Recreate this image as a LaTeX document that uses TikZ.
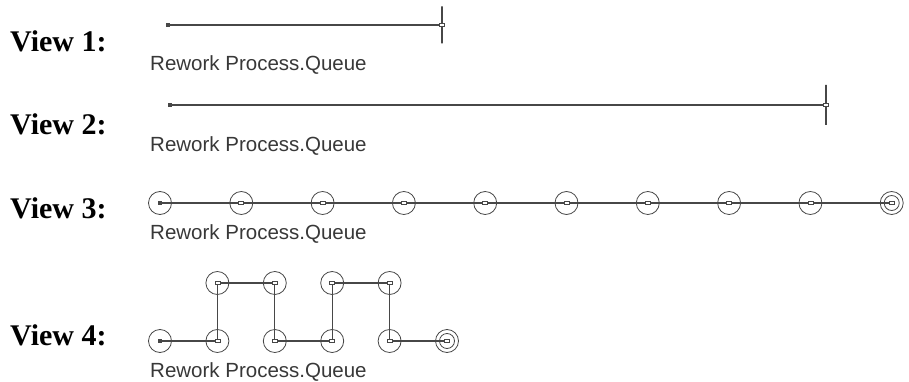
\documentclass[tikz,border=0pt]{standalone}
\usepackage{fontspec}
\setmainfont{Liberation Serif}
\setsansfont{Liberation Sans}
\usetikzlibrary{positioning,backgrounds}
\definecolor{wiregray}{gray}{0.28}
\definecolor{labelgray}{gray}{0.22}

\begin{document}
\begin{tikzpicture}[
    x=1pt, y=-1pt,
    view/.style={anchor=base west, inner sep=0pt, font=\fontsize{30}{36}\selectfont\bfseries},
    qlabel/.style={anchor=base west, inner sep=0pt, text=labelgray, font=\sffamily\fontsize{20.5}{24}\selectfont},
    wire/.style={draw=wiregray, line width=1.2pt},
    fillbox/.style={rectangle, fill=wiregray, minimum width=4pt, minimum height=4pt, inner sep=0pt},
    openbox/.style={rectangle, draw=wiregray, fill=white, line width=0.8pt, minimum width=5pt, minimum height=3.5pt, inner sep=0pt},
    startpt/.style={inner sep=0pt, minimum size=0pt, label={[fillbox]center:{}}},
    endbar/.style={rectangle, draw=wiregray, line width=1.2pt, minimum width=0pt, inner sep=0pt, label={[openbox]center:{}}},
    stn/.style={circle, draw=wiregray, line width=0.8pt, minimum size=23pt, inner sep=0pt, label={[openbox]center:{}}},
    firststn/.style={circle, draw=wiregray, line width=0.8pt, minimum size=23pt, inner sep=0pt, label={[fillbox]center:{}}},
    laststn/.style={stn, path picture={\draw[wiregray, line width=0.8pt] (path picture bounding box.center) circle (7.5pt);}}
]
\useasboundingbox (0,0) rectangle (909,382);

% --- View 1 ---
\node[view] (V1) at (10,52) {View 1:};
\node[startpt] (S1) at (168,25) {};
\node[endbar, minimum height=37pt] (E1) at (442,25) {};
\node[qlabel] (L1) at (150,71) {Rework Process.Queue};

% --- View 2 ---
\node[view] (V2) at (10,135) {View 2:};
\node[startpt] (S2) at (170,105) {};
\node[endbar, minimum height=40pt] (E2) at (826,105) {};
\node[qlabel] (L2) at (150,152) {Rework Process.Queue};

% --- View 3 ---
\node[view] (V3) at (10,218) {View 3:};
\node[firststn] (A1) at (160,203) {};
\node[stn, right=57.5pt of A1] (A2) {};
\node[stn, right=57.5pt of A2] (A3) {};
\node[stn, right=57.5pt of A3] (A4) {};
\node[stn, right=57.5pt of A4] (A5) {};
\node[stn, right=57.5pt of A5] (A6) {};
\node[stn, right=57.5pt of A6] (A7) {};
\node[stn, right=57.5pt of A7] (A8) {};
\node[stn, right=57.5pt of A8] (A9) {};
\node[laststn, right=57.5pt of A9] (A10) {};
\node[qlabel] (L3) at (150,239) {Rework Process.Queue};

% --- View 4 ---
\node[view] (V4) at (10,345) {View 4:};
\node[firststn] (B1) at (160,341) {};
\node[stn, right=33.6pt of B1] (B2) {};
\node[stn, right=33.6pt of B2] (B3) {};
\node[stn, right=33.6pt of B3] (B4) {};
\node[stn, right=33.6pt of B4] (B5) {};
\node[laststn, right=33.6pt of B5] (B6) {};
\node[stn, above=34.2pt of B2] (T2) {};
\node[stn, above=34.2pt of B3] (T3) {};
\node[stn, above=34.2pt of B4] (T4) {};
\node[stn, above=34.2pt of B5] (T5) {};
\node[qlabel] (L4) at (150,377) {Rework Process.Queue};

% connectors behind the stations
\begin{scope}[on background layer]
\draw[wire] (S1.center) -- (E1.center);
\draw[wire] (S2.center) -- (E2.center);
\draw[wire] (A1.center) -- (A10.center);
\draw[wire] (B1.center) -- (B2.center) -- (T2.center) -- (T3.center) -- (B3.center) -- (B4.center)
    -- (T4.center) -- (T5.center) -- (B5.center) -- (B6.center);
\end{scope}
\end{tikzpicture}
\end{document}
